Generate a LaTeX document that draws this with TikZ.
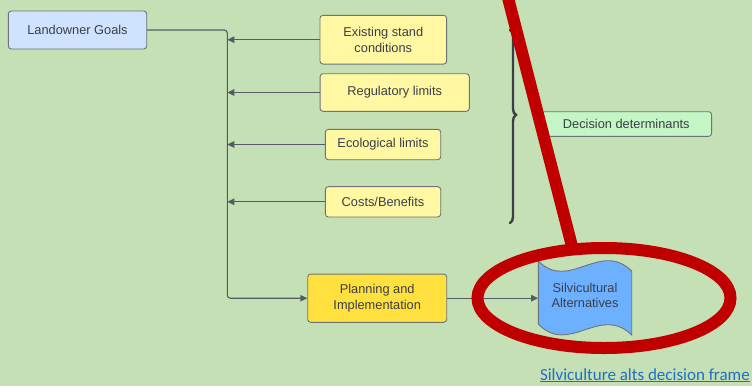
\documentclass[tikz,border=0pt]{standalone}
\usepackage{fontspec}
\setmainfont{Liberation Sans}
\newfontfamily\linkfont{Carlito}
\usetikzlibrary{arrows.meta,decorations.pathreplacing}
\definecolor{bg}{HTML}{C5E0B4}
\definecolor{txt}{HTML}{3A3F47}
\definecolor{edge}{HTML}{6E7378}
\definecolor{conncol}{HTML}{555C66}
\definecolor{lblue}{HTML}{CFE3FF}
\definecolor{lyel}{HTML}{FFF7A1}
\definecolor{dyel}{HTML}{FFE03F}
\definecolor{sblue}{HTML}{6DB0FF}
\definecolor{lgreen}{HTML}{C3F5C5}
\definecolor{redmark}{HTML}{C00000}
\definecolor{linkblue}{HTML}{1F6FC5}
\tikzset{
  boxbase/.style={draw=edge, line width=0.9pt, rounded corners=3pt, inner sep=0pt,
    align=center, text=txt, font=\fontsize{12.8}{15.5}\selectfont},
  conn/.style={draw=conncol, line width=1.1pt},
  tip/.style={-{Triangle[length=7pt,width=6.5pt]}},
}
\begin{document}
\begin{tikzpicture}[x=1pt,y=-1pt]
\fill[bg] (0,0) rectangle (752,386);
\useasboundingbox (0,0) rectangle (752,386);

\coordinate (tk) at (227.3,0);

\node[boxbase, fill=lblue, minimum width=138.4pt, minimum height=38pt] (lg) at (77.5,30) {Landowner Goals};
\node[boxbase, fill=lyel, minimum width=126.7pt, minimum height=48.7pt] (ex) at (383.3,39.7) {Existing stand\\conditions};
\node[boxbase, fill=lyel, minimum width=149.3pt, minimum height=37.6pt] (reg) at (394.7,92.5) {Regulatory limits};
\node[boxbase, fill=lyel, minimum width=115.4pt, minimum height=30.4pt] (eco) at (383,144.5) {Ecological limits};
\node[boxbase, fill=lyel, minimum width=115.4pt, minimum height=30.3pt] (cost) at (383,201.8) {Costs/Benefits};
\node[boxbase, fill=dyel, minimum width=139pt, minimum height=48.3pt] (plan) at (377.2,298.2) {Planning and\\Implementation};
\node[boxbase, fill=lgreen, minimum width=170.7pt, minimum height=24.6pt] (dd) at (626.3,124) {Decision determinants};

% wavy tape shape
\fill[sblue, draw=edge, line width=0.9pt]
  (538.3,261) .. controls (569,292) and (600,240) .. (631.7,271)
  -- (631.7,335) .. controls (600,304) and (569,356) .. (538.3,324) -- cycle;
\node[inner sep=0pt, minimum width=93.4pt, minimum height=60pt, align=center, text=txt,
  font=\fontsize{12.8}{15.5}\selectfont] (silv) at (585,295.5) {Silvicultural\\Alternatives};

% connectors
\draw[conn, tip, rounded corners=3pt] (lg.east) -| (tk |- plan.west) -- (plan.west);
\draw[conn, tip] (ex.west) -- (ex.west -| tk);
\draw[conn, tip] (reg.west) -- (reg.west -| tk);
\draw[conn, tip] (eco.west) -- (eco.west -| tk);
\draw[conn, tip] (cost.west) -- (cost.west -| tk);
\draw[conn, tip] (plan.east) -- (plan.east -| silv.west);

% brace
\coordinate (brT) at (510,30);
\coordinate (brB) at (510,223);
\draw[draw=txt, line width=2.4pt, line cap=round,
  decorate, decoration={brace, amplitude=6pt, aspect=0.44}] (brT) -- (brB);

% red annotation
\coordinate (rA) at (506.5,-8);
\coordinate (rB) at (574,254);
\draw[redmark, line width=12pt] (rA) -- (rB);
\draw[redmark, line width=12pt] (604,298) ellipse [x radius=126.5pt, y radius=50pt];

% link
\node[anchor=base east, inner sep=0pt, text=linkblue, font=\linkfont\fontsize{17}{20}\selectfont] (lnk) at (750,380)
  {\underline{Silviculture alts decision frame}};
\end{tikzpicture}
\end{document}
